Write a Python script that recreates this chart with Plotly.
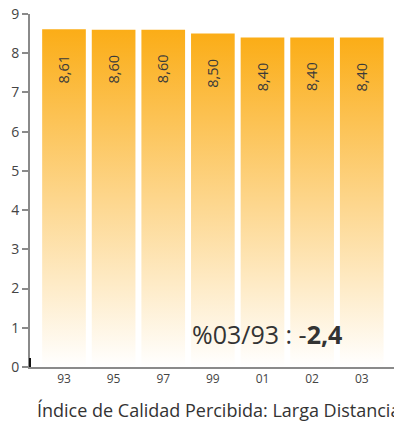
import plotly.graph_objects as go

categories = ["93", "95", "97", "99", "01", "02", "03"]
values = [8.61, 8.60, 8.60, 8.50, 8.40, 8.40, 8.40]
value_labels = ["8,61", "8,60", "8,60", "8,50", "8,40", "8,40", "8,40"]
y_ticks = [0, 1, 2, 3, 4, 5, 6, 7, 8, 9]
x_title = "Índice de Calidad Percibida: Larga Distancia"
note_text = "%03/93 : -<b>2,4</b>"

bar_width = 0.88
font = "Open Sans"

fig = go.Figure()
for i, (cat, v) in enumerate(zip(categories, values)):
    x0, x1 = i - bar_width / 2, i + bar_width / 2
    fig.add_trace(go.Scatter(
        x=[x0, x1, x1, x0, x0],
        y=[0, 0, v, v, 0],
        mode="lines",
        line=dict(width=0, color="rgba(0,0,0,0)"),
        fill="toself",
        fillgradient=dict(
            type="vertical",
            start=0,
            stop=v,
            colorscale=[[0, "#FFFFFF"], [0.5, "#FDD68C"], [1, "#FBAD17"]],
        ),
        hoverinfo="text",
        text=f"{cat}: {value_labels[i]}",
        showlegend=False,
    ))
    fig.add_annotation(
        x=i, y=v - 1.0, xref="x", yref="y",
        text=value_labels[i], textangle=-90, showarrow=False,
        font=dict(family=font, size=14.5, color="#3a3a3a"),
        xanchor="center", yanchor="middle",
    )

fig.add_annotation(
    x=0.0137, y=-0.122, xref="paper", yref="paper",
    text=x_title, showarrow=False, xanchor="left", yanchor="middle",
    font=dict(family=font, size=18, color="#333333"),
)
fig.add_annotation(
    x=4.09, y=0.84, xref="x", yref="y",
    text=note_text, showarrow=False, xanchor="center", yanchor="middle",
    font=dict(family=font, size=25, color="#333333"),
)
fig.add_shape(type="line", xref="paper", yref="y", x0=0, x1=0, y0=0, y1=0.23,
              line=dict(color="#111111", width=2))

fig.update_layout(
    width=394, height=421,
    margin=dict(l=30, r=0, t=14, b=54),
    plot_bgcolor="white", paper_bgcolor="white",
    showlegend=False,
    xaxis=dict(
        range=[-0.685, 6.65],
        tickmode="array", tickvals=list(range(len(categories))), ticktext=categories,
        showgrid=False, zeroline=False, showline=True, linecolor="#8a8a8a", linewidth=1.5,
        ticks="", tickfont=dict(family=font, size=12, color="#444444"),
        fixedrange=True,
    ),
    yaxis=dict(
        range=[0, 9],
        tickmode="array", tickvals=y_ticks,
        showgrid=False, zeroline=False, showline=True, linecolor="#8a8a8a", linewidth=2,
        ticks="outside", ticklen=6, tickcolor="#8a8a8a", tickwidth=1.5,
        tickfont=dict(family=font, size=14, color="#444444"),
        fixedrange=True,
    ),
)

fig.write_html(
    "out.html",
    config={"displayModeBar": False},
    post_script="document.body.style.margin='0';document.body.style.overflow='hidden';",
)
